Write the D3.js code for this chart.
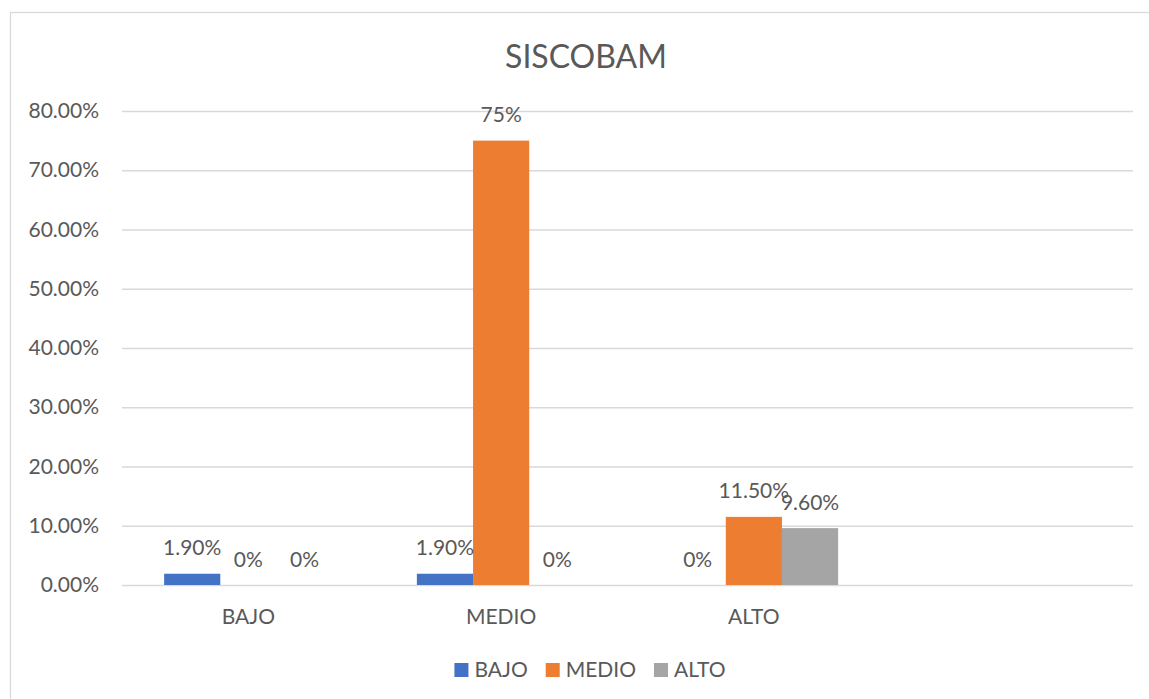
<!DOCTYPE html>
<html>
<head>
<meta charset="utf-8">
<script src="https://cdn.jsdelivr.net/npm/d3@7"></script>
<style>
  html, body { margin: 0; padding: 0; background: #ffffff; }
  svg { display: block; }
  text { font-family: Lato, "Liberation Sans", sans-serif; fill: #595959; }
</style>
</head>
<body>
<svg id="chart" width="1149" height="699"></svg>
<script>
const title = "SISCOBAM";
const categories = ["BAJO", "MEDIO", "ALTO", ""];
const seriesNames = ["BAJO", "MEDIO", "ALTO"];
const bajoValues = [0.019, 0.019, 0, null];
const medioValues = [0, 0.75, 0.115, null];
const altoValues = [0, 0, 0.096, null];
const bajoLabels = ["1.90%", "1.90%", "0%", null];
const medioLabels = ["0%", "75%", "11.50%", null];
const altoLabels = ["0%", "0%", "9.60%", null];
const yTicks = [0, 0.1, 0.2, 0.3, 0.4, 0.5, 0.6, 0.7, 0.8];
const colors = ["#4472C4", "#ED7D31", "#A5A5A5"];

const series = [
  { name: seriesNames[0], values: bajoValues, labels: bajoLabels, color: colors[0] },
  { name: seriesNames[1], values: medioValues, labels: medioLabels, color: colors[1] },
  { name: seriesNames[2], values: altoValues, labels: altoLabels, color: colors[2] }
];

const svg = d3.select("#chart");

// chart border (top and left visible)
svg.append("rect")
  .attr("x", 10.5).attr("y", 12.5)
  .attr("width", 1160).attr("height", 700)
  .attr("fill", "none").attr("stroke", "#d9d9d9").attr("stroke-width", 1.3);

const plot = { left: 122, right: 1133, top: 111, bottom: 585 };

const x0 = d3.scaleBand().domain(categories.map((c, i) => i))
  .range([plot.left, plot.right]).padding(0);
const x1 = d3.scaleBand().domain(seriesNames)
  .range([0, x0.bandwidth()]).paddingInner(0).paddingOuter(0.75);
const y = d3.scaleLinear().domain([0, 0.8]).range([plot.bottom, plot.top]);

// title
svg.append("text")
  .attr("x", 586).attr("y", 68)
  .attr("text-anchor", "middle")
  .style("font-size", "32px")
  .text(title);

// y axis with gridlines
const yAxis = d3.axisLeft(y)
  .tickValues(yTicks)
  .tickFormat(d3.format(".2%"))
  .tickSize(-(plot.right - plot.left))
  .tickPadding(23);

const gy = svg.append("g")
  .attr("transform", `translate(${plot.left},0)`)
  .call(yAxis);
gy.select(".domain").remove();
gy.selectAll(".tick line").attr("stroke", "#d9d9d9").attr("stroke-width", 1.3);
gy.selectAll(".tick text")
  .style("font-size", "21px")
  .attr("fill", "#595959")
  .style("font-family", "Lato, 'Liberation Sans', sans-serif");

// x axis labels
const xAxis = d3.axisBottom(x0).tickFormat(i => categories[i]).tickSize(0).tickPadding(0);
const gx = svg.append("g")
  .attr("transform", `translate(0,${plot.bottom})`)
  .call(xAxis);
gx.select(".domain").remove();
gx.selectAll(".tick text")
  .attr("dy", null)
  .attr("y", 39)
  .style("font-size", "21px")
  .attr("fill", "#595959")
  .style("font-family", "Lato, 'Liberation Sans', sans-serif");

// bars
const groups = svg.append("g");
series.forEach(s => {
  const data = categories.map((c, i) => ({ i, v: s.values[i], label: s.labels[i] }))
    .filter(d => d.v !== null);
  groups.selectAll(null).data(data).enter().append("rect")
    .attr("x", d => x0(d.i) + x1(s.name))
    .attr("y", d => y(d.v))
    .attr("width", x1.bandwidth())
    .attr("height", d => y(0) - y(d.v))
    .attr("fill", s.color);
});
// data labels
series.forEach(s => {
  const data = categories.map((c, i) => ({ i, v: s.values[i], label: s.labels[i] }))
    .filter(d => d.v !== null);
  svg.append("g").selectAll(null).data(data).enter().append("text")
    .attr("x", d => x0(d.i) + x1(s.name) + x1.bandwidth() / 2)
    .attr("y", d => y(d.v) - 18.5)
    .attr("text-anchor", "middle")
    .style("font-size", "21px")
    .text(d => d.label);
});

// legend
const legend = svg.append("g");
let lx = 0;
const gap = 18;
series.forEach(s => {
  const g = legend.append("g").attr("transform", `translate(${lx},0)`);
  g.append("rect").attr("x", 0).attr("y", -14).attr("width", 14).attr("height", 14).attr("fill", s.color);
  const t = g.append("text").attr("x", 20).attr("y", 0).style("font-size", "21px").text(s.name);
  const w = t.node().getComputedTextLength();
  lx += 20 + w + gap;
});
const totalW = lx - gap;
legend.attr("transform", `translate(${590 - totalW / 2},677)`);
</script>
</body>
</html>
